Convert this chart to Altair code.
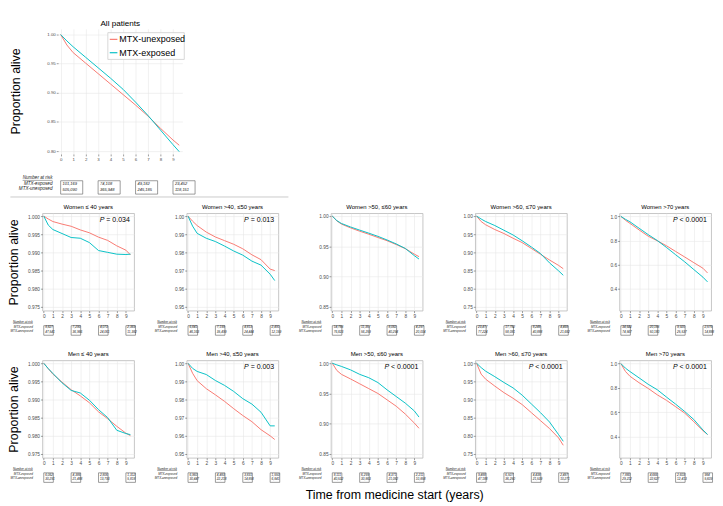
import altair as alt
import pandas as pd

FONT = "Liberation Sans"
RED = "#F8766D"
CYAN = "#00BFC4"
GROUPS = ["MTX-unexposed", "MTX-exposed"]

YEARS = [0, 0.5, 1, 2, 3, 4, 5, 6, 7, 8, 9, 9.5]
RISK_TIMES = [0, 3, 6, 9]
X_TICKS = [0, 1, 2, 3, 4, 5, 6, 7, 8, 9]

# ---- All patients ----
ALL_UNEXP = [1.000, 0.982, 0.969, 0.951, 0.933, 0.915, 0.897, 0.879, 0.860, 0.839, 0.819, 0.810]
ALL_EXP = [1.000, 0.989, 0.979, 0.961, 0.943, 0.925, 0.906, 0.884, 0.861, 0.836, 0.811, 0.799]
ALL_RISK_EXP = ["101,169", "74,108", "49,182", "23,452"]
ALL_RISK_UNEXP = ["505,090", "365,948", "245,185", "118,151"]
ALL_YTICKS = [0.80, 0.85, 0.90, 0.95, 1.00]

# ---- Women ----
W40_UNEXP = [1.000, 0.9992, 0.9985, 0.9978, 0.9972, 0.9962, 0.9954, 0.9942, 0.9933, 0.9918, 0.9906, 0.9893]
W40_EXP = [1.000, 0.9975, 0.9963, 0.9952, 0.9941, 0.9939, 0.9927, 0.9905, 0.9900, 0.9895, 0.9894, 0.9895]
W50_UNEXP = [1.000, 0.9972, 0.9948, 0.9912, 0.9885, 0.9865, 0.9845, 0.9820, 0.9787, 0.9760, 0.9708, 0.9700]
W50_EXP = [1.000, 0.9945, 0.9905, 0.9878, 0.9860, 0.9835, 0.9808, 0.9785, 0.9752, 0.9730, 0.9680, 0.9645]
W60_UNEXP = [1.000, 0.9920, 0.9868, 0.9805, 0.9750, 0.9700, 0.9646, 0.9593, 0.9530, 0.9462, 0.9370, 0.9330]
W60_EXP = [1.000, 0.9925, 0.9878, 0.9820, 0.9768, 0.9718, 0.9665, 0.9605, 0.9540, 0.9465, 0.9345, 0.9290]
W70_UNEXP = [1.000, 0.985, 0.976, 0.963, 0.952, 0.939, 0.927, 0.911, 0.895, 0.879, 0.864, 0.855]
W70_EXP = [1.000, 0.992, 0.985, 0.974, 0.961, 0.948, 0.932, 0.915, 0.897, 0.871, 0.849, 0.837]
WO_UNEXP = [1.0, 0.968, 0.942, 0.888, 0.836, 0.798, 0.757, 0.710, 0.664, 0.617, 0.571, 0.532]
WO_EXP = [1.0, 0.976, 0.955, 0.902, 0.849, 0.800, 0.743, 0.683, 0.624, 0.560, 0.497, 0.458]

# ---- Men ----
M40_UNEXP = [1.000, 0.9985, 0.9970, 0.9948, 0.9927, 0.9910, 0.9891, 0.9866, 0.9847, 0.9826, 0.9807, 0.9800]
M40_EXP = [1.000, 0.9985, 0.9972, 0.9946, 0.9925, 0.9918, 0.9898, 0.9872, 0.9850, 0.9815, 0.9806, 0.9803]
M50_UNEXP = [1.000, 0.9945, 0.9904, 0.9860, 0.9826, 0.9790, 0.9750, 0.9712, 0.9678, 0.9634, 0.9600, 0.9580]
M50_EXP = [1.000, 0.9972, 0.9955, 0.9938, 0.9905, 0.9878, 0.9845, 0.9805, 0.9775, 0.9730, 0.9655, 0.9655]
M60_UNEXP = [1.000, 0.9880, 0.9816, 0.9740, 0.9660, 0.9580, 0.9500, 0.9395, 0.9290, 0.9160, 0.9010, 0.8925]
M60_EXP = [1.000, 0.9972, 0.9947, 0.9890, 0.9816, 0.9760, 0.9680, 0.9560, 0.9450, 0.9340, 0.9210, 0.9110]
M70_UNEXP = [1.000, 0.970, 0.956, 0.937, 0.919, 0.9035, 0.886, 0.864, 0.842, 0.820, 0.794, 0.774]
M70_EXP = [1.000, 0.988, 0.978, 0.963, 0.947, 0.932, 0.912, 0.888, 0.864, 0.838, 0.803, 0.785]
MO_UNEXP = [1.0, 0.935, 0.895, 0.842, 0.795, 0.742, 0.697, 0.645, 0.592, 0.521, 0.447, 0.416]
MO_EXP = [1.0, 0.962, 0.934, 0.882, 0.829, 0.784, 0.724, 0.666, 0.605, 0.539, 0.453, 0.416]

# ---- numbers at risk ----
W40_RISK_EXP = ["8,827", "7,290", "4,073", "2,369"]
W40_RISK_UNEXP = ["47,541", "36,966", "24,061", "11,382"]
W50_RISK_EXP = ["6,841", "7,199", "4,813", "2,491"]
W50_RISK_UNEXP = ["46,163", "35,499", "24,444", "12,159"]
W60_RISK_EXP = ["14,788", "11,357", "8,082", "4,297"]
W60_RISK_UNEXP = ["76,823", "56,259", "40,294", "20,004"]
W70_RISK_EXP = ["23,477", "17,782", "8,248", "4,468"]
W70_RISK_UNEXP = ["77,224", "58,081", "40,888", "21,682"]
WO_RISK_EXP = ["34,642", "20,188", "9,920", "2,576"]
WO_RISK_UNEXP = ["74,567", "50,180", "25,537", "14,888"]
M40_RISK_EXP = ["6,062", "4,386", "2,806", "1,312"]
M40_RISK_UNEXP = ["30,291", "21,488", "13,793", "5,818"]
M50_RISK_EXP = ["6,960", "4,483", "3,831", "1,550"]
M50_RISK_UNEXP = ["30,447", "22,218", "14,858", "6,841"]
M60_RISK_EXP = ["8,111", "6,299", "4,371", "2,211"]
M60_RISK_UNEXP = ["40,532", "30,863", "21,082", "10,858"]
M70_RISK_EXP = ["9,488", "6,507", "4,438", "2,487"]
M70_RISK_UNEXP = ["47,188", "36,250", "21,539", "10,271"]
MO_RISK_EXP = ["7,880", "4,666", "2,603", "984"]
MO_RISK_UNEXP = ["29,212", "22,627", "12,413", "5,609"]

# ---- axis ticks per age band ----
TICKS_40 = [0.975, 0.980, 0.985, 0.990, 0.995, 1.000]
TICKS_50 = [0.95, 0.96, 0.97, 0.98, 0.99, 1.00]
TICKS_60 = [0.85, 0.90, 0.95, 1.00]
TICKS_70 = [0.75, 0.80, 0.85, 0.90, 0.95, 1.00]
TICKS_O = [0.4, 0.6, 0.8, 1.0]

TITLES = ["Women \u2264 40 years", "Women >40, \u226450 years", "Women >50, \u226460 years",
          "Women >60, \u226470 years", "Women >70 years",
          "Men \u2264 40 years", "Men >40, \u226450 years", "Men >50, \u226460 years",
          "Men >60, \u226470 years", "Men >70 years"]
PVALS = ["= 0.034", "= 0.013", "", "", "< 0.0001",
         "", "= 0.003", "< 0.0001", "< 0.0001", "< 0.0001"]

CW = {' ': .278, '=': .584, '<': .584, '.': .278, ',': .278, 'P': .667, 'N': .722,
      'a': .556, 'b': .556, 'e': .556, 'i': .222, 'k': .5, 'm': .833, 'r': .333,
      's': .5, 't': .278, 'u': .556}


def tw(s, fs):
    return sum(CW.get(c, .556) for c in s) * fs


def panel(title, unexp, exp, r_exp, r_unexp, ydom, yticks, yfmt, pval, first, top=False):
    if top:
        W, H = 130, 131
        xdom = [-0.2, 9.75]
        tick_fs, lab_fs, num_fs, title_fs = 4.6, 4.8, 4.2, 8.5
        lab_x = -6
        nar_y, exp_y, unexp_y = H + 25, H + 31, H + 37
        box_y, box_size, box_path = H + 35, 196, "M0,-1L3.3,-1L3.3,1L0,1Z"
        num_dx = 2
    else:
        W, H = 96, 102
        xdom = [-0.15, 9.9]
        tick_fs, lab_fs, num_fs, title_fs = 5.0, 3.2, 3.3, 6.2
        lab_x = -10
        nar_y, exp_y, unexp_y = H + 11.5, H + 17, H + 21
        box_y, box_size, box_path = H + 20.7, 100, "M0,-1L2,-1L2,1L0,1Z"
        num_dx = 1.5

    rows = []
    for t, v in zip(YEARS, unexp):
        rows.append({"time": t, "surv": v, "group": GROUPS[0]})
    for t, v in zip(YEARS, exp):
        rows.append({"time": t, "surv": v, "group": GROUPS[1]})
    df = pd.DataFrame(rows)

    common = dict(labelFontSize=tick_fs, labelColor="#4D4D4D", tickColor="#333333",
                  tickSize=2, tickWidth=0.5, labelPadding=1, domain=False, grid=True,
                  gridColor="#E6E6E6", gridWidth=0.6, labelFont=FONT,
                  labelOverlap=False, labelFlush=False)
    xaxis = alt.Axis(values=X_TICKS, format="d", title=None, **common)
    X = alt.X("time:Q", scale=alt.Scale(domain=xdom, nice=False, zero=False), axis=xaxis)
    if first and not top:
        yaxis = alt.Axis(values=yticks, format=yfmt, title="Proportion alive",
                         titleFontSize=13, titleFont=FONT, titleFontWeight="normal",
                         titleColor="black", titlePadding=7, **common)
    else:
        yaxis = alt.Axis(values=yticks, format=yfmt, title=None, **common)

    lines = alt.Chart(df).mark_line(strokeWidth=1, clip=True).encode(
        x=X,
        y=alt.Y("surv:Q", scale=alt.Scale(domain=ydom, nice=False, zero=False), axis=yaxis),
        color=alt.Color("group:N", scale=alt.Scale(domain=GROUPS, range=[RED, CYAN]),
                        legend=None),
    )
    layers = [lines]

    one = pd.DataFrame({"k": [0]})
    if top:
        # y title as rotated text
        layers.append(alt.Chart(one).mark_text(align="center", baseline="middle", angle=270,
                                               fontSize=13, font=FONT,
                                               color="black").encode(
            x=alt.value(-44), y=alt.value(H / 2), text=alt.value("Proportion alive")))
        # panel title drawn as text just above the plot
        layers.append(alt.Chart(one).mark_text(align="center", baseline="middle",
                                               fontSize=title_fs, font=FONT,
                                               color="black").encode(
            x=alt.value(W / 2), y=alt.value(-5.5), text=alt.value(title)))
        # legend box drawn inside the panel
        layers.append(alt.Chart(one).mark_rect(fill="white", stroke="#CCCCCC",
                                               strokeWidth=0.8).encode(
            x=alt.value(52), x2=alt.value(132), y=alt.value(4), y2=alt.value(32)))
        for lbl, col, yy in [(GROUPS[0], RED, 11), (GROUPS[1], CYAN, 25)]:
            layers.append(alt.Chart(one).mark_rule(strokeWidth=1.2, color=col).encode(
                x=alt.value(54), x2=alt.value(62), y=alt.value(yy)))
            layers.append(alt.Chart(one).mark_text(align="left", baseline="middle",
                                                   fontSize=9.4, font=FONT,
                                                   color="black").encode(
                x=alt.value(64), y=alt.value(yy), text=alt.value(lbl)))

    if pval:
        p_fs = 7.3
        rest = " " + pval
        xr = W - 4.5
        layers.append(alt.Chart(one).mark_text(align="right", baseline="middle", fontSize=p_fs,
                                               font=FONT, color="black").encode(
            x=alt.value(xr), y=alt.value(7), text=alt.value(rest)))
        layers.append(alt.Chart(one).mark_text(align="right", baseline="middle", fontSize=p_fs,
                                               font=FONT, fontStyle="italic", color="black").encode(
            x=alt.value(xr - tw(rest, p_fs)), y=alt.value(7), text=alt.value("P")))

    # number-at-risk table
    rdf = pd.DataFrame({"time": RISK_TIMES, "exp": r_exp, "unexp": r_unexp})
    layers.append(alt.Chart(rdf).mark_point(shape=box_path, size=box_size, filled=False,
                                            stroke="#555555", strokeWidth=0.6, opacity=1).encode(
        x=X, y=alt.value(box_y)))
    layers.append(alt.Chart(rdf).mark_text(align="left", baseline="middle", fontSize=num_fs,
                                           font=FONT, fontStyle="italic", dx=num_dx,
                                           color="#222222").encode(
        x=X, y=alt.value(exp_y + 0.6), text="exp:N"))
    layers.append(alt.Chart(rdf).mark_text(align="left", baseline="middle", fontSize=num_fs,
                                           font=FONT, fontStyle="italic", dx=num_dx,
                                           color="#222222").encode(
        x=X, y=alt.value(unexp_y + 0.9), text="unexp:N"))
    for txt, yy in [("Number at risk", nar_y), ("MTX-exposed", exp_y), ("MTX-unexposed", unexp_y)]:
        layers.append(alt.Chart(one).mark_text(align="right", baseline="middle", fontSize=lab_fs,
                                               font=FONT, fontStyle="italic",
                                               color="#222222").encode(
            x=alt.value(lab_x), y=alt.value(yy), text=alt.value(txt)))
    w_nar = tw("Number at risk", lab_fs)
    layers.append(alt.Chart(one).mark_rule(strokeWidth=0.4, color="#222222").encode(
        x=alt.value(lab_x - w_nar), x2=alt.value(lab_x), y=alt.value(nar_y + lab_fs * 0.55)))
    if top:
        layers.append(alt.Chart(one).mark_rule(strokeWidth=1, color="#C8C8C8").encode(
            x=alt.value(-50), x2=alt.value(241), y=alt.value(H + 45)))

    if top:
        view = alt.ViewBackground(stroke="transparent", strokeWidth=0)
        return alt.layer(*layers).properties(width=W, height=H, view=view)

    view = alt.ViewBackground(stroke="#B5B5B5", strokeWidth=0.8)
    return alt.layer(*layers).properties(
        width=W, height=H, view=view,
        title=alt.TitleParams(text=title, fontSize=title_fs, font=FONT, fontWeight="normal",
                              color="black", offset=3, anchor="middle"))


top = panel("All patients", ALL_UNEXP, ALL_EXP, ALL_RISK_EXP, ALL_RISK_UNEXP,
            [0.795, 1.0098], ALL_YTICKS, ".2f", "", True, top=True)

# invisible spacer so the top panel sits further right than the first column
spacer = alt.Chart(pd.DataFrame({"k": [0]})).mark_point(opacity=0, size=1).encode(
    x=alt.value(5), y=alt.value(60)
).properties(width=14, height=131,
             view=alt.ViewBackground(stroke="transparent", strokeWidth=0))

top_row = alt.hconcat(spacer, top, spacing=2.5, bounds="flush").resolve_scale(
    x="independent", y="independent", color="independent")

specs = [
    (W40_UNEXP, W40_EXP, W40_RISK_EXP, W40_RISK_UNEXP, [0.9739, 1.0008], TICKS_40, ".3f"),
    (W50_UNEXP, W50_EXP, W50_RISK_EXP, W50_RISK_UNEXP, [0.9479, 1.0016], TICKS_50, ".2f"),
    (W60_UNEXP, W60_EXP, W60_RISK_EXP, W60_RISK_UNEXP, [0.8437, 1.0047], TICKS_60, ".2f"),
    (W70_UNEXP, W70_EXP, W70_RISK_EXP, W70_RISK_UNEXP, [0.7395, 1.0079], TICKS_70, ".2f"),
    (WO_UNEXP, WO_EXP, WO_RISK_EXP, WO_RISK_UNEXP, [0.22, 1.026], TICKS_O, ".1f"),
    (M40_UNEXP, M40_EXP, M40_RISK_EXP, M40_RISK_UNEXP, [0.9739, 1.0008], TICKS_40, ".3f"),
    (M50_UNEXP, M50_EXP, M50_RISK_EXP, M50_RISK_UNEXP, [0.9479, 1.0016], TICKS_50, ".2f"),
    (M60_UNEXP, M60_EXP, M60_RISK_EXP, M60_RISK_UNEXP, [0.8437, 1.0047], TICKS_60, ".2f"),
    (M70_UNEXP, M70_EXP, M70_RISK_EXP, M70_RISK_UNEXP, [0.7395, 1.0079], TICKS_70, ".2f"),
    (MO_UNEXP, MO_EXP, MO_RISK_EXP, MO_RISK_UNEXP, [0.224, 1.026], TICKS_O, ".1f"),
]

panels = []
for i, (u, e, re_, ru, dom, ticks, fmt) in enumerate(specs):
    panels.append(panel(TITLES[i], u, e, re_, ru, dom, ticks, fmt, PVALS[i], i % 5 == 0))

grid = alt.concat(*panels, columns=5,
                  spacing=alt.RowColnumber(row=14, column=17)).resolve_scale(
    x="independent", y="independent", color="shared"
).properties(
    title=alt.TitleParams(text="Time from medicine start (years)", orient="bottom",
                          anchor="middle", fontSize=13, font=FONT, fontWeight="normal",
                          color="black", offset=6, dx=35)
)

chart = alt.vconcat(top_row, grid, spacing=6).resolve_scale(
    x="independent", y="independent", color="independent"
).properties(padding=0).configure(font=FONT, background="white")

chart.save("out.html", embed_options={"renderer": "svg", "actions": False})
